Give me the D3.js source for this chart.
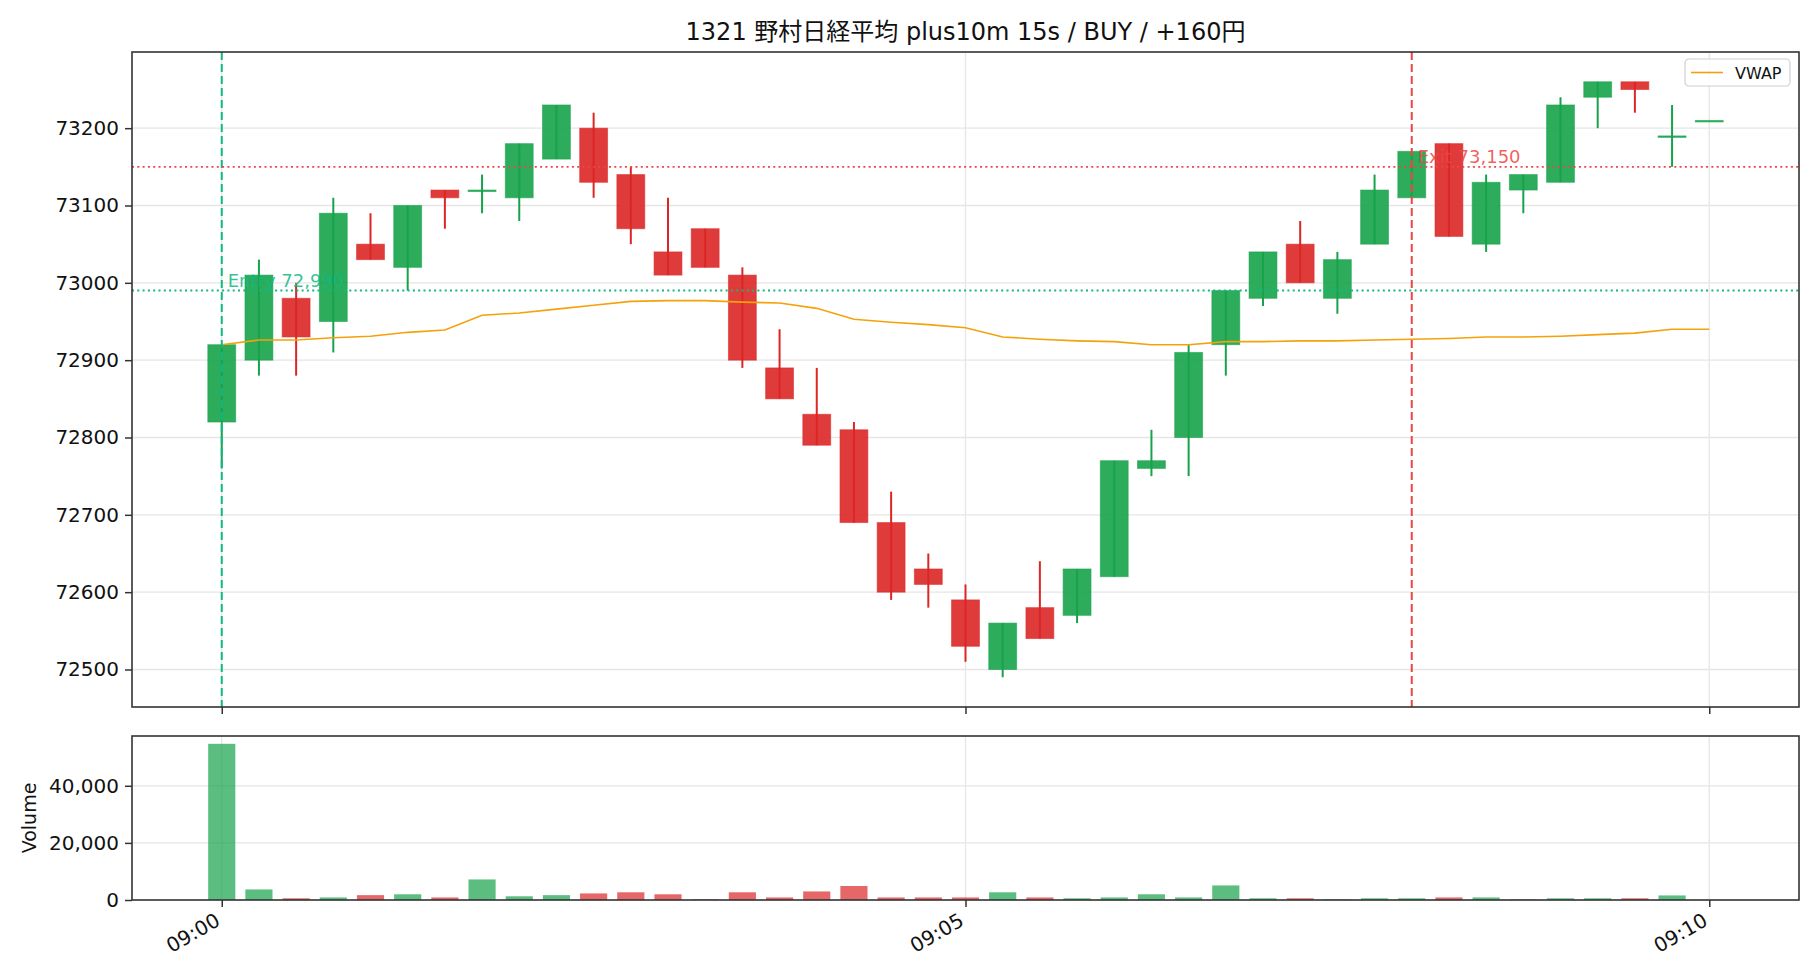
<!DOCTYPE html>
<html>
<head>
<meta charset="utf-8">
<script src="https://cdn.jsdelivr.net/npm/d3@7"></script>
<style>
  body { margin: 0; background: #fff; }
  text { font-family: "DejaVu Sans", "Noto Sans CJK JP", sans-serif; fill: #111; }
</style>
</head>
<body>
<div id="chart"></div>
<script>
// 15s candles, 09:00 - 09:10
const times = ["09:00:00","09:00:15","09:00:30","09:00:45","09:01:00","09:01:15","09:01:30","09:01:45",
  "09:02:00","09:02:15","09:02:30","09:02:45","09:03:00","09:03:15","09:03:30","09:03:45",
  "09:04:00","09:04:15","09:04:30","09:04:45","09:05:00","09:05:15","09:05:30","09:05:45",
  "09:06:00","09:06:15","09:06:30","09:06:45","09:07:00","09:07:15","09:07:30","09:07:45",
  "09:08:00","09:08:15","09:08:30","09:08:45","09:09:00","09:09:15","09:09:30","09:09:45","09:10:00"]

const opens  = [72820,72900,72980,72950,73050,73020,73120,73120,73110,73160,73200,73140,73040,73070,73010,72890,
  72830,72810,72690,72630,72590,72500,72580,72570,72620,72760,72800,72920,72980,73050,72980,73050,
  73110,73180,73050,73120,73130,73240,73260,73190,73210]
const highs  = [72920,73030,73000,73110,73090,73100,73120,73140,73180,73230,73220,73150,73110,73070,73020,72940,
  72890,72820,72730,72650,72610,72560,72640,72630,72770,72810,72920,72990,73040,73080,73040,73140,
  73170,73180,73140,73140,73240,73260,73260,73230,73210]
const lows   = [72760,72880,72880,72910,73030,72990,73070,73090,73080,73160,73110,73050,73010,73020,72890,72850,
  72790,72690,72590,72580,72510,72490,72540,72560,72620,72750,72750,72880,72970,73000,72960,73050,
  73110,73060,73040,73090,73130,73200,73220,73150,73210]
const closes = [72920,73010,72930,73090,73030,73100,73110,73120,73180,73230,73130,73070,73010,73020,72900,72850,
  72790,72690,72600,72610,72530,72560,72540,72630,72770,72770,72910,72990,73040,73000,73030,73120,
  73170,73060,73130,73140,73230,73260,73250,73190,73210]
const volumes = [54700,3700,600,900,1700,2000,900,7200,1300,1700,2300,2700,2000,200,2700,900,
  3000,4900,900,900,900,2700,900,600,900,2000,900,5100,600,600,200,600,
  600,900,900,200,600,600,600,1600,0]
const vwap = [72920,72926,72926,72929,72931,72936,72939,72958,72961,72966,72971,72976,72977,72977,72975,72974,
  72967,72953,72949,72946,72942,72930,72927,72925,72924,72920,72920,72924,72924,72925,72925,72926,
  72927,72928,72930,72930,72931,72933,72935,72940,72940]

const entryTime = "09:00:00", entryPrice = 72990
const exitTime = "09:08:00", exitPrice = 73150

const priceTicks = [72500,72600,72700,72800,72900,73000,73100,73200]
const volumeTicks = [0,20000,40000]
const timeTicks = ["09:00:00","09:05:00","09:10:00"]

const titleText = "1321 野村日経平均 plus10m 15s / BUY / +160円"

// ---- layout
const width = 1820
const height = 980
const left = 132, right = 1799
const priceTop = 52, priceBottom = 707
const volTop = 736, volBottom = 900

const green = "#16a34a"
const red = "#dc2626"
const entryColor = "#10b981"
const exitColor = "#ef4444"
const gridColor = "#e6e6e6"
const spineColor = "#333"

const parseTime = d3.timeParse("%H:%M:%S")
const candles = times.map((t, i) => ({
  t: parseTime(t), o: opens[i], h: highs[i], l: lows[i], c: closes[i], v: volumes[i], vw: vwap[i]
}))

const pad = 36.2 * 1000 // ms of padding on each side
const x = d3.scaleTime()
  .domain([new Date(candles[0].t.getTime() - pad), new Date(candles[candles.length - 1].t.getTime() + pad)])
  .range([left, right])
const step = x(candles[1].t) - x(candles[0].t)

const y = d3.scaleLinear().domain([72451.5, 73298.5]).range([priceBottom, priceTop])
const yv = d3.scaleLinear().domain([0, 57435]).range([volBottom, volTop])

const svg = d3.select("#chart").append("svg")
  .attr("width", width)
  .attr("height", height)

svg.append("text")
  .attr("x", (left + right) / 2)
  .attr("y", 32)
  .attr("text-anchor", "middle")
  .attr("dominant-baseline", "central")
  .style("font-size", "24px")
  .text(titleText)

// ---- grids
function drawGrid (yScale, ticks, top, bottom) {
  const g = svg.append("g")
  g.selectAll(".hg").data(ticks).join("line")
    .attr("x1", left).attr("x2", right)
    .attr("y1", d => yScale(d)).attr("y2", d => yScale(d))
    .attr("stroke", gridColor).attr("stroke-width", 1.3)
  g.selectAll(".vg").data(timeTicks.map(parseTime)).join("line")
    .attr("x1", d => x(d)).attr("x2", d => x(d))
    .attr("y1", top).attr("y2", bottom)
    .attr("stroke", gridColor).attr("stroke-width", 1.3)
}
drawGrid(y, priceTicks, priceTop, priceBottom)
drawGrid(yv, volumeTicks.slice(1), volTop, volBottom)

// ---- candles
const bodyW = step * 0.75
const candleG = svg.append("g")
candleG.selectAll("rect").data(candles).join("rect")
  .attr("x", d => x(d.t) - bodyW / 2)
  .attr("width", bodyW)
  .attr("y", d => y(Math.max(d.o, d.c)))
  .attr("height", d => Math.max(Math.abs(y(d.o) - y(d.c)), 1.5))
  .attr("fill", d => d.c >= d.o ? green : red)
  .attr("fill-opacity", 0.9)
  .attr("stroke", d => d.c >= d.o ? green : red)
  .attr("stroke-opacity", 0.55)
  .attr("stroke-width", 1)

candleG.selectAll("line").data(candles.filter(d => d.h > d.l)).join("line")
  .attr("x1", d => x(d.t)).attr("x2", d => x(d.t))
  .attr("y1", d => y(d.h)).attr("y2", d => y(d.l))
  .attr("stroke", d => d.c >= d.o ? green : red)
  .attr("stroke-width", 2)

// ---- vwap
svg.append("path")
  .datum(candles)
  .attr("fill", "none")
  .attr("stroke", "#f5a10a")
  .attr("stroke-width", 1.6)
  .attr("d", d3.line().x(d => x(d.t)).y(d => y(d.vw)))

// ---- entry / exit markers
const entryX = x(parseTime(entryTime))
const exitX = x(parseTime(exitTime))

svg.append("line")
  .attr("x1", entryX).attr("x2", entryX).attr("y1", priceTop).attr("y2", priceBottom)
  .attr("stroke", entryColor).attr("stroke-width", 2).attr("stroke-dasharray", "8,4")
svg.append("line")
  .attr("x1", left).attr("x2", right).attr("y1", y(entryPrice)).attr("y2", y(entryPrice))
  .attr("stroke", entryColor).attr("stroke-width", 2).attr("stroke-dasharray", "2,3.3")
svg.append("line")
  .attr("x1", exitX).attr("x2", exitX).attr("y1", priceTop).attr("y2", priceBottom)
  .attr("stroke", exitColor).attr("stroke-width", 2).attr("stroke-dasharray", "8,4")
svg.append("line")
  .attr("x1", left).attr("x2", right).attr("y1", y(exitPrice)).attr("y2", y(exitPrice))
  .attr("stroke", exitColor).attr("stroke-width", 1.6).attr("stroke-dasharray", "2,3.3")

svg.append("text")
  .attr("x", entryX + 6).attr("y", y(entryPrice) - 4)
  .style("font-size", "18px").style("fill", entryColor).style("fill-opacity", 0.85)
  .text("Entry " + d3.format(",")(entryPrice))
svg.append("text")
  .attr("x", exitX + 6).attr("y", y(exitPrice) - 4)
  .style("font-size", "18px").style("fill", exitColor).style("fill-opacity", 0.85)
  .text("Exit " + d3.format(",")(exitPrice))

// ---- volume bars
const volW = step * 0.73
svg.append("g").selectAll("rect").data(candles.filter(d => d.v > 0)).join("rect")
  .attr("x", d => x(d.t) - volW / 2)
  .attr("width", volW)
  .attr("y", d => yv(d.v))
  .attr("height", d => yv(0) - yv(d.v))
  .attr("fill", d => d.c >= d.o ? green : red)
  .attr("fill-opacity", 0.7)

// ---- axes
function styleAxis (g) {
  g.select(".domain").remove()
  g.selectAll(".tick line").attr("stroke", spineColor).attr("stroke-width", 1.5)
  g.selectAll(".tick text").style("font-size", "20px").attr("fill", "#111")
}

svg.append("g")
  .attr("transform", `translate(${left},0)`)
  .call(d3.axisLeft(y).tickValues(priceTicks).tickFormat(d3.format("d")).tickSize(7).tickPadding(6))
  .call(styleAxis)

svg.append("g")
  .attr("transform", `translate(${left},0)`)
  .call(d3.axisLeft(yv).tickValues(volumeTicks).tickFormat(d3.format(",")).tickSize(7).tickPadding(6))
  .call(styleAxis)

svg.append("g")
  .attr("transform", `translate(0,${priceBottom})`)
  .call(d3.axisBottom(x).tickValues(timeTicks.map(parseTime)).tickFormat("").tickSize(7))
  .call(styleAxis)

const xAxis = svg.append("g")
  .attr("transform", `translate(0,${volBottom})`)
  .call(d3.axisBottom(x).tickValues(timeTicks.map(parseTime)).tickFormat(d3.timeFormat("%H:%M")).tickSize(7))
  .call(styleAxis)
xAxis.selectAll(".tick text")
  .attr("text-anchor", "end")
  .attr("dy", "0.72em")
  .attr("y", 12)
  .attr("x", -8)
  .attr("transform", "rotate(-30, -8, 12)")

// spines
svg.append("rect").attr("x", left).attr("y", priceTop).attr("width", right - left).attr("height", priceBottom - priceTop)
  .attr("fill", "none").attr("stroke", spineColor).attr("stroke-width", 1.6)
svg.append("rect").attr("x", left).attr("y", volTop).attr("width", right - left).attr("height", volBottom - volTop)
  .attr("fill", "none").attr("stroke", spineColor).attr("stroke-width", 1.6)

svg.append("text")
  .attr("transform", `translate(29,${(volTop + volBottom) / 2}) rotate(-90)`)
  .attr("text-anchor", "middle")
  .attr("dominant-baseline", "central")
  .style("font-size", "19px")
  .text("Volume")

// ---- legend
const legend = svg.append("g").attr("transform", "translate(1685,59)")
legend.append("rect")
  .attr("width", 105).attr("height", 27).attr("rx", 4)
  .attr("fill", "#fff").attr("fill-opacity", 0.85)
  .attr("stroke", "#d0d0d0").attr("stroke-width", 1.2)
legend.append("line")
  .attr("x1", 6).attr("x2", 38).attr("y1", 13.5).attr("y2", 13.5)
  .attr("stroke", "#f5a10a").attr("stroke-width", 1.6)
legend.append("text")
  .attr("x", 50).attr("y", 14)
  .attr("dominant-baseline", "central")
  .style("font-size", "16px")
  .text("VWAP")
</script>
</body>
</html>
